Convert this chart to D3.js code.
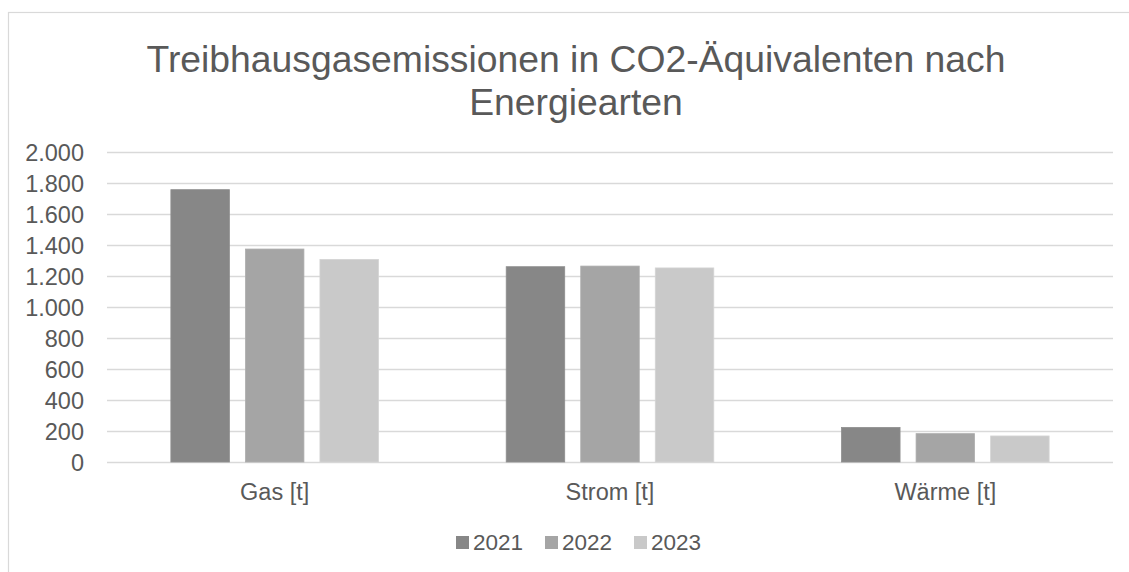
<!DOCTYPE html>
<html><head><meta charset="utf-8">
<script src="https://cdn.jsdelivr.net/npm/d3@7"></script>
<style>body{margin:0;background:#fff;} svg{display:block;font-family:"Liberation Sans",Arial,sans-serif;}</style>
</head><body>
<svg id="c" width="1129" height="572"></svg>
<script>
const categories = ["Gas [t]", "Strom [t]", "Wärme [t]"];
const years = ["2021", "2022", "2023"];
const values2021 = [1757, 1260, 223];
const values2022 = [1374, 1264, 183];
const values2023 = [1307, 1252, 168];
const yTicks = [0, 200, 400, 600, 800, 1000, 1200, 1400, 1600, 1800, 2000];
const colors = ["#878787", "#a5a5a5", "#c9c9c9"];
const titleLines = ["Treibhausgasemissionen in CO2-Äquivalenten nach", "Energiearten"];

const series = [values2021, values2022, values2023];
const svg = d3.select("#c");
const txt = "#595959";

svg.append("rect").attr("x", 8.5).attr("y", 12.5).attr("width", 1130).attr("height", 570)
  .attr("fill", "#fff").attr("stroke", "#d9d9d9").attr("stroke-width", 1.2);

const y = d3.scaleLinear().domain([0, 2000]).range([462, 152]);
const x0 = d3.scaleBand().domain(categories).range([107, 1113]).padding(0);
const x1 = d3.scaleBand().domain(years).range([0, x0.bandwidth()]).paddingInner(0.215).paddingOuter(0.857);

// gridlines
svg.append("g").selectAll("line").data(yTicks).join("line")
  .attr("x1", 107).attr("x2", 1113)
  .attr("y1", d => Math.round(y(d)) + 0.5).attr("y2", d => Math.round(y(d)) + 0.5)
  .attr("stroke", "#d9d9d9").attr("stroke-width", 1.3);

// y axis labels
const fmt = d3.formatLocale({decimal: ",", thousands: ".", grouping: [3], currency: ["", "€"]}).format(",d");
const yAxis = d3.axisLeft(y).tickValues(yTicks).tickFormat(fmt).tickSize(0).tickPadding(0);
const ya = svg.append("g").attr("transform", "translate(84,0)").call(yAxis);
ya.select(".domain").remove();
ya.selectAll("text").attr("fill", txt).attr("font-size", 23.5).attr("font-family", "Liberation Sans, Arial, sans-serif").attr("dy", "0.36em");

// bars
const g = svg.append("g");
categories.forEach((c, ci) => {
  years.forEach((yr, si) => {
    const v = series[si][ci];
    g.append("rect")
      .attr("x", x0(c) + x1(yr)).attr("y", y(v))
      .attr("width", x1.bandwidth()).attr("height", y(0) - y(v))
      .attr("fill", colors[si]).attr("stroke", d3.color(colors[si]).brighter(0.15)).attr("stroke-width", 0.8);
  });
});

// x axis labels
const xAxis = d3.axisBottom(x0).tickSize(0).tickPadding(0);
const xa = svg.append("g").attr("transform", "translate(0,462)").call(xAxis);
xa.select(".domain").remove();
xa.selectAll("text").attr("fill", txt).attr("font-size", 23.5).attr("font-family", "Liberation Sans, Arial, sans-serif").attr("dy", null).attr("y", 38);

// title
svg.append("g").selectAll("text").data(titleLines).join("text")
  .attr("x", 576).attr("y", (d, i) => 72 + i * 43)
  .attr("text-anchor", "middle").attr("fill", txt).attr("font-size", 37.3)
  .text(d => d);

// legend
const lx = [456, 545, 634];
const leg = svg.append("g");
years.forEach((yr, i) => {
  leg.append("rect").attr("x", lx[i]).attr("y", 536).attr("width", 13).attr("height", 13).attr("fill", colors[i]);
  leg.append("text").attr("x", lx[i] + 17).attr("y", 550).attr("fill", txt).attr("font-size", 22.5).text(yr);
});
</script>
</body></html>
